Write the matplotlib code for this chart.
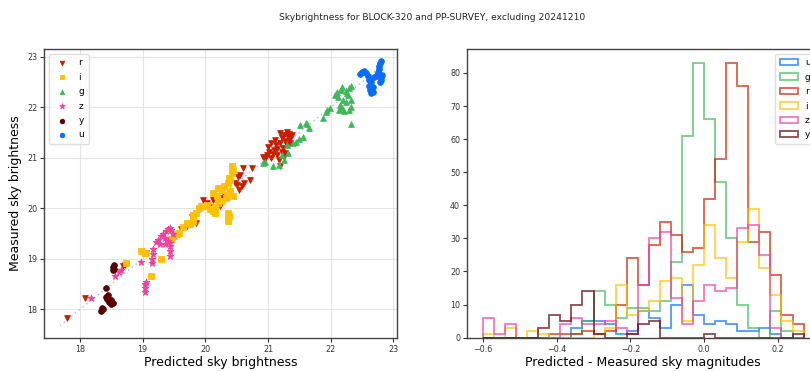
import numpy as np
import matplotlib
matplotlib.use("Agg")
import matplotlib.pyplot as plt

# ---------------- scatter data (predicted, measured) ----------------
r_x = [17.80, 18.08, 18.68, 18.72, 19.05, 19.62, 19.70, 19.79, 19.82, 19.85, 19.96, 20.02, 20.07,
       20.13, 20.23, 20.28, 20.31, 20.40, 20.47, 20.50, 20.54, 20.52, 20.58, 20.60, 20.62, 20.71,
       20.74, 20.55, 20.95, 20.98, 21.00, 21.02, 21.05, 21.08, 21.10, 21.11, 21.13, 21.15, 21.17,
       21.19, 21.19, 21.20, 21.22, 21.24, 21.25, 21.27, 21.28, 21.30, 21.30, 21.32, 21.34, 21.35,
       21.36, 21.38, 21.25, 21.15, 21.05, 21.22, 20.92]
r_y = [17.83, 18.22, 18.86, 18.88, 19.11, 19.60, 19.66, 19.83, 19.85, 19.72, 20.16, 20.10, 20.02,
       20.16, 20.05, 20.20, 20.23, 20.30, 20.50, 20.46, 20.36, 20.63, 20.45, 20.79, 20.50, 20.56,
       20.79, 20.66, 20.97, 21.05, 21.22, 21.12, 21.00, 21.08, 21.15, 21.35, 21.25, 21.05, 20.95,
       20.83, 21.49, 21.30, 21.40, 21.20, 21.45, 21.10, 21.33, 21.52, 21.25, 21.42, 21.48, 21.38,
       21.30, 21.45, 21.02, 21.18, 21.30, 21.12, 21.02]

i_x = [18.74, 18.98, 19.03, 19.13, 19.29, 19.45, 19.50, 19.55, 19.58, 19.65, 19.70, 19.75, 19.80,
       19.81, 19.85, 19.90, 19.93, 20.00, 20.02, 20.08, 20.13, 20.15, 20.13, 20.18, 20.20, 20.26,
       20.30, 20.33, 20.36, 20.38, 20.40, 20.42, 20.42, 20.44, 20.40, 20.45, 20.34, 20.37, 20.37,
       20.36, 20.38, 20.20, 20.25, 20.15]
i_y = [18.91, 19.16, 19.12, 18.66, 18.99, 19.40, 19.45, 19.50, 19.52, 19.64, 19.72, 19.70, 19.75,
       19.87, 19.90, 20.00, 20.05, 20.05, 20.07, 19.98, 19.95, 19.90, 20.30, 20.25, 20.40, 20.36,
       20.45, 20.20, 20.50, 20.60, 20.56, 20.70, 20.83, 20.76, 20.35, 20.25, 20.27, 19.90, 19.80,
       19.75, 19.85, 20.10, 20.15, 20.02]

g_x = [20.92, 20.95, 21.08, 21.18, 21.22, 21.25, 21.30, 21.32, 21.40, 21.45, 21.50, 21.56, 21.51,
       21.60, 21.62, 21.65, 21.88, 21.92, 21.95, 21.99, 22.07, 22.10, 22.12, 22.13, 22.15, 22.17,
       22.19, 22.20, 22.22, 22.24, 22.26, 22.28, 22.30, 22.32, 22.33, 22.33, 22.30, 22.18, 22.32,
       22.25]
g_y = [20.89, 20.92, 20.84, 20.86, 21.06, 20.95, 21.25, 21.10, 21.29, 21.32, 21.38, 21.42, 21.65,
       21.70, 21.68, 21.60, 21.78, 21.90, 21.95, 21.98, 22.25, 22.30, 22.20, 21.95, 22.05, 22.35,
       22.40, 22.15, 21.92, 22.10, 22.28, 22.25, 22.38, 22.42, 22.15, 22.00, 21.95, 21.98, 21.67,
       22.33]

z_x = [18.17, 18.56, 18.62, 18.66, 18.98, 19.04, 19.04, 19.04, 19.05, 19.15, 19.15, 19.16, 19.17,
       19.22, 19.25, 19.28, 19.30, 19.33, 19.36, 19.38, 19.40, 19.43, 19.46, 19.48, 19.43, 19.43,
       19.43, 19.44, 19.40, 19.35]
z_y = [18.22, 18.66, 18.75, 18.78, 18.94, 18.35, 18.42, 18.50, 18.55, 18.92, 19.00, 19.10, 19.20,
       19.33, 19.38, 19.30, 19.45, 19.50, 19.42, 19.55, 19.60, 19.62, 19.58, 19.50, 19.05, 19.15,
       19.25, 19.32, 19.35, 19.30]

y_x = [18.34, 18.35, 18.37, 18.41, 18.42, 18.43, 18.44, 18.47, 18.49, 18.50, 18.52, 18.53, 18.53,
       18.54, 18.55]
y_y = [17.97, 18.02, 18.00, 18.42, 18.25, 18.20, 18.28, 18.15, 18.10, 18.18, 18.12, 18.78, 18.84,
       18.88, 18.80]

u_x = [22.47, 22.50, 22.53, 22.56, 22.60, 22.62, 22.64, 22.62, 22.63, 22.65, 22.68, 22.67, 22.70,
       22.74, 22.76, 22.78, 22.78, 22.79, 22.80, 22.80, 22.82, 22.81, 22.79, 22.76]
u_y = [22.66, 22.70, 22.72, 22.68, 22.62, 22.55, 22.50, 22.42, 22.34, 22.28, 22.30, 22.40, 22.60,
       22.65, 22.70, 22.75, 22.82, 22.88, 22.92, 22.60, 22.65, 22.55, 22.50, 22.62]

# one-to-one reference line end points
line_range = [17.68, 22.80]

# ---------------- histogram data (counts per bin) ----------------
bin_start, bin_width, n_bins = -0.60, 0.03, 29
hist_u = [0, 0, 0, 0, 0, 0, 0, 0, 3, 5, 5, 4, 1, 2, 8, 6, 3, 10, 16, 7, 4, 5, 4, 2, 2, 3, 1, 0, 0]
hist_g = [0, 0, 0, 0, 0, 0, 0, 0, 1, 5, 14, 10, 6, 9, 9, 8, 11, 23, 61, 83, 66, 47, 30, 10, 3, 0, 8, 2, 0]
hist_r = [0, 0, 0, 0, 0, 0, 1, 1, 1, 2, 1, 2, 10, 24, 16, 28, 35, 31, 26, 27, 42, 54, 83, 76, 29, 32, 19, 7, 4]
hist_i = [1, 0, 3, 0, 2, 1, 0, 0, 0, 0, 1, 3, 16, 7, 8, 11, 17, 18, 5, 22, 34, 24, 18, 29, 39, 21, 13, 5, 2]
hist_z = [6, 1, 4, 0, 0, 0, 0, 4, 6, 4, 4, 5, 3, 1, 16, 30, 32, 12, 4, 11, 16, 14, 15, 33, 34, 25, 3, 0, 0]
hist_y = [0, 0, 0, 0, 0, 3, 7, 5, 10, 14, 1, 0, 0, 1, 4, 5, 0, 0, 0, 0, 1, 0, 0, 0, 0, 0, 0, 0, 1]

colors = {"u": "#0a6cff", "g": "#3fb85a", "r": "#c81e00", "i": "#ffc000",
          "z": "#f0409c", "y": "#5a0000"}
markers = {"r": "v", "i": "s", "g": "^", "z": "*", "y": "o", "u": "o"}
scatter_sets = [("r", r_x, r_y), ("i", i_x, i_y), ("g", g_x, g_y),
                ("z", z_x, z_y), ("y", y_x, y_y), ("u", u_x, u_y)]
hist_sets = [("u", hist_u), ("g", hist_g), ("r", hist_r),
             ("i", hist_i), ("z", hist_z), ("y", hist_y)]

fig = plt.figure(figsize=(8.10, 3.71), dpi=100)
ax1 = fig.add_axes([0.0547, 0.0898, 0.4354, 0.7774])
ax2 = fig.add_axes([0.5765, 0.0898, 0.4354, 0.7774])

tick_fs = 5.8
label_fs = 9

# ---- left: scatter ----
ax1.grid(True, color="#e4e4e4", lw=0.8, zorder=0)
ax1.set_axisbelow(True)
ax1.plot(line_range, line_range, ls=(0, (1, 2.5)), color="#aab0ff", lw=1.0, zorder=1)
for b, xs, ys in scatter_sets:
    sz = 26 if markers[b] == "*" else 17
    ax1.scatter(xs, ys, s=sz, marker=markers[b], color=colors[b], label=b, zorder=2,
                linewidths=0.6, edgecolors=colors[b])
ax1.set_xlim(17.43, 23.06)
ax1.set_ylim(17.44, 23.15)
ax1.set_xticks([18, 19, 20, 21, 22, 23])
ax1.set_yticks([18, 19, 20, 21, 22, 23])
ax1.set_xlabel("Predicted sky brightness", fontsize=label_fs, labelpad=2)
ax1.set_ylabel("Measured sky brightness", fontsize=label_fs, labelpad=4)
leg1 = ax1.legend(loc="upper left", fontsize=6.5, scatterpoints=1, handletextpad=0.8,
                  borderpad=0.5, labelspacing=0.6, markerscale=0.8)
leg1.get_frame().set_edgecolor("#d8d8d8")

# ---- right: histograms ----
edges = bin_start + bin_width * np.arange(n_bins + 1)
centers = 0.5 * (edges[:-1] + edges[1:])
for b, counts in hist_sets:
    ax2.hist(centers, bins=edges, weights=counts, histtype="step", color=colors[b],
             alpha=0.7, lw=1.3, label=b)
ax2.set_xticks([-0.6, -0.4, -0.2, 0.0, 0.2])
ax2.set_yticks([0, 10, 20, 30, 40, 50, 60, 70, 80])
ax2.set_xlabel("Predicted - Measured sky magnitudes", fontsize=label_fs, labelpad=2)
leg2 = ax2.legend(loc="upper right", fontsize=6.5, labelspacing=0.6, borderpad=0.5,
                  handlelength=2.0)
leg2.get_frame().set_edgecolor("#d8d8d8")

for ax in (ax1, ax2):
    ax.tick_params(labelsize=tick_fs, colors="#333333", length=3, width=0.8, pad=2)
    for sp in ax.spines.values():
        sp.set_color("#444444")
        sp.set_linewidth(1.0)

fig.text(0.533, 0.952, "Skybrightness for BLOCK-320 and PP-SURVEY, excluding 20241210",
         ha="center", va="center", fontsize=6.6, color="#222222")

fig.savefig("out.png", dpi=100)
